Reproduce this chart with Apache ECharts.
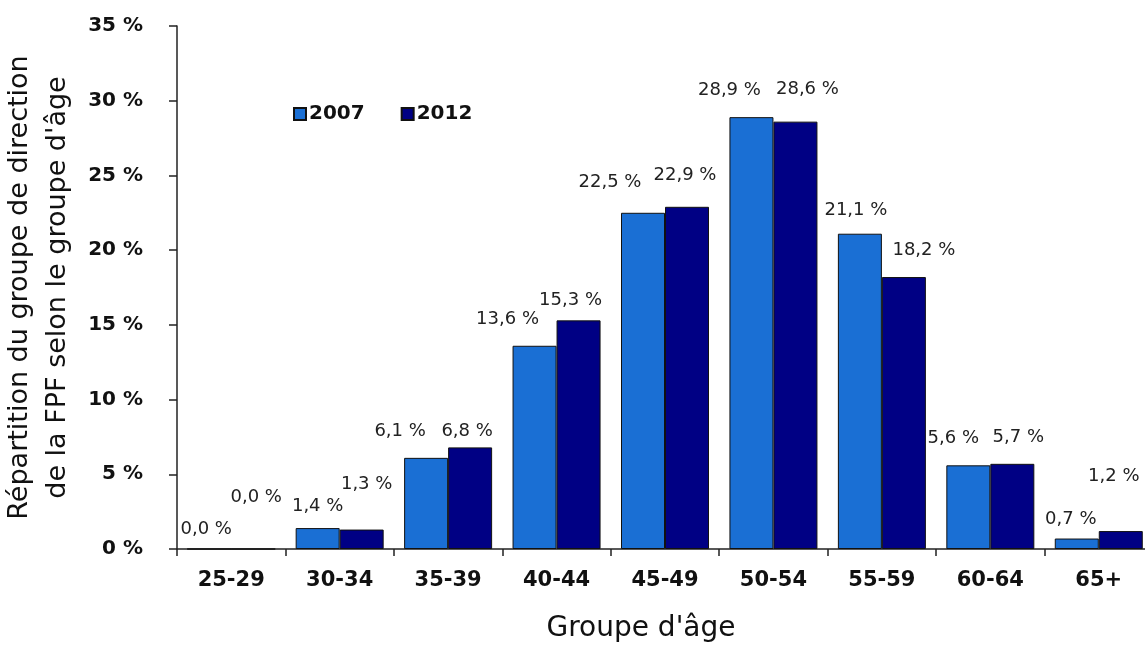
<!DOCTYPE html>
<html>
<head>
<meta charset="utf-8">
<script src="https://cdn.jsdelivr.net/npm/echarts@6/dist/echarts.min.js"></script>
<style>
  html, body { margin: 0; padding: 0; background: #fff; }
  #chart { width: 1145px; height: 650px; }
</style>
</head>
<body>
<div id="chart"></div>
<script>
// Age groups and the share (%) of FPF management staff in each, 2007 vs 2012
const ageGroups = ['25-29', '30-34', '35-39', '40-44', '45-49', '50-54', '55-59', '60-64', '65+'];
const share2007 = [0.0, 1.4, 6.1, 13.6, 22.5, 28.9, 21.1, 5.6, 0.7];
const share2012 = [0.0, 1.3, 6.8, 15.3, 22.9, 28.6, 18.2, 5.7, 1.2];
const yTicks = { min: 0, max: 35, step: 5 };

// Hand-placed value labels: [dx, dy] nudges from the default "top" spot
const nudge2007 = [[-3, -5], [0, -8], [-26, -13], [-27, -12], [-33, -16], [-22, -13], [-4, -9], [-15, -13], [-6, -5]];
const nudge2012 = [[3, -37], [5, -31], [-3, -2], [-8, -6], [-2, -17], [12, -18], [20, -13], [6, -12], [-7, -41]];

const fmtPct = v => v.toFixed(1).replace('.', ',') + ' %';
const FONT = '"DejaVu Sans", Verdana, sans-serif';

function buildSeries(name, values, nudges, color) {
  return {
    name: name,
    type: 'bar',
    barWidth: 44,
    barGap: '0%',
    itemStyle: { color: color, borderColor: '#111', borderWidth: 1 },
    data: values.map((v, i) => ({
      value: v,
      label: { offset: nudges[i] }
    })),
    label: {
      show: true,
      position: 'top',
      fontFamily: FONT,
      fontSize: 18,
      color: '#222',
      formatter: p => fmtPct(p.value)
    }
  };
}

const chart = echarts.init(document.getElementById('chart'));
chart.setOption({
  backgroundColor: '#fff',
  animation: false,
  grid: { left: 177, top: 26, width: 976, height: 523, containLabel: false, outerBoundsMode: 'none' },
  legend: {
    left: 288,
    top: 99,
    itemWidth: 12,
    itemHeight: 12,
    itemGap: 36,
    icon: 'rect',
    textStyle: { fontFamily: FONT, fontWeight: 'bold', fontSize: 20, color: '#111', padding: [0, 0, 0, -2] },
    data: ['2007', '2012']
  },
  xAxis: {
    type: 'category',
    data: ageGroups,
    boundaryGap: true,
    axisLine: { lineStyle: { color: '#222', width: 1.5 } },
    axisTick: { show: true, length: 7, alignWithLabel: false, lineStyle: { color: '#222', width: 1.5 } },
    axisLabel: { margin: 21, fontFamily: FONT, fontWeight: 'bold', fontSize: 21, color: '#111' },
    name: "Groupe d'âge",
    nameLocation: 'middle',
    nameGap: 66,
    nameTextStyle: { fontFamily: FONT, fontSize: 28, color: '#111', padding: [0, 48, 0, 0] }
  },
  yAxis: {
    type: 'value',
    min: yTicks.min,
    max: yTicks.max,
    interval: yTicks.step,
    splitLine: { show: false },
    axisLine: { show: true, lineStyle: { color: '#222', width: 1.5 } },
    axisTick: { show: true, length: 8, lineStyle: { color: '#222', width: 1.5 } },
    axisLabel: {
      margin: 34,
      fontFamily: FONT, fontWeight: 'bold', fontSize: 20, color: '#111',
      formatter: '{value} %'
    },
    name: 'Répartition du groupe de direction\nde la FPF selon le groupe d\'âge',
    nameLocation: 'middle',
    nameGap: 98,
    nameTextStyle: { fontFamily: FONT, fontSize: 27, color: '#111', lineHeight: 38 }
  },
  series: [
    buildSeries('2007', share2007, nudge2007, '#1a6fd4'),
    buildSeries('2012', share2012, nudge2012, '#000084')
  ]
});
</script>
</body>
</html>
